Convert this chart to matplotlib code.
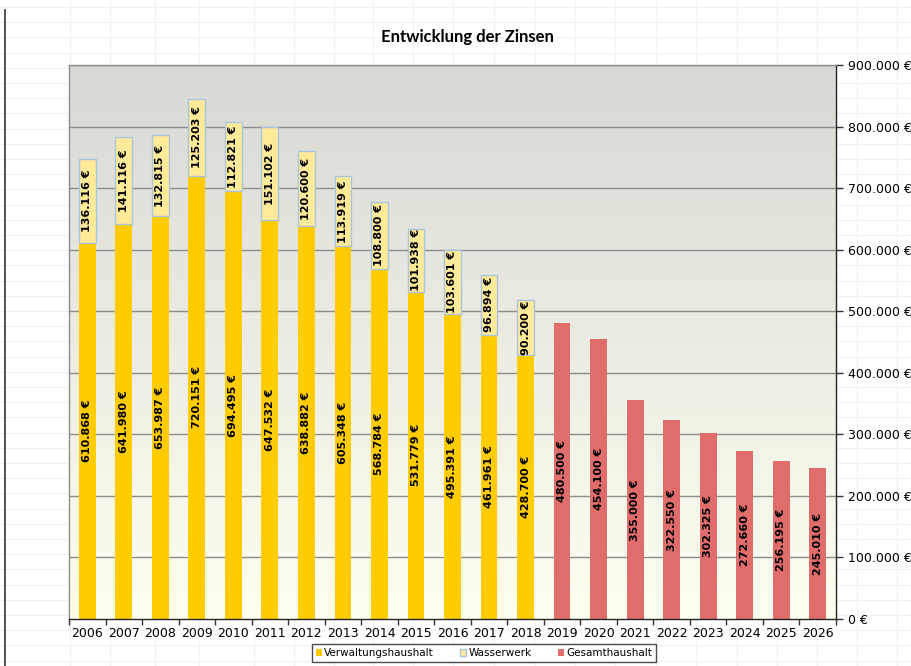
import numpy as np
import matplotlib
matplotlib.use("Agg")
import matplotlib.pyplot as plt
from matplotlib.patches import Patch
from matplotlib.lines import Line2D

years = [str(y) for y in range(2006, 2027)]
verwaltung = [610868, 641980, 653987, 720151, 694495, 647532, 638882, 605348,
              568784, 531779, 495391, 461961, 428700]
wasserwerk = [136116, 141116, 132815, 125203, 112821, 151102, 120600, 113919,
              108800, 101938, 103601, 96894, 90200]
gesamt = [480500, 454100, 355000, 322550, 302325, 272660, 256195, 245010]
yticks = list(range(0, 900001, 100000))

C_VERW = "#ffcc00"
C_WASS = "#ffea9a"
C_WASS_EDGE = "#a9c4de"
C_GES = "#e06c6c"


def eur(v):
    s = f"{v:,}".replace(",", ".")
    return s + " €"


fig = plt.figure(figsize=(9.12, 6.66), dpi=100)
fig.patch.set_facecolor("white")

# spreadsheet background grid
for yy in np.arange(7, 666, 15.2):
    fig.add_artist(Line2D([0, 1], [1 - yy / 666, 1 - yy / 666], color="#f1f1f1", lw=0.8, zorder=0))
for xx in [70, 110, 155, 199, 254, 294, 334, 373, 413, 453, 494, 535, 575, 615, 656, 696, 737, 777, 817, 857, 897]:
    fig.add_artist(Line2D([xx / 912, xx / 912], [0, 1], color="#f1f1f1", lw=0.8, zorder=0))
fig.add_artist(Line2D([5 / 912, 5 / 912], [0, 1 - 10 / 666], color="#333333", lw=1.2, zorder=1))

ax = fig.add_axes([69 / 912, 1 - 619 / 666, (836 - 69) / 912, (619 - 65) / 666])

# gradient background (gray at top, cream at bottom)
grad = np.linspace(0, 1, 256)[:, None]
top = np.array([0.85, 0.85, 0.835])
bot = np.array([1.0, 1.0, 0.94])
img = top[None, None, :] * (1 - grad[:, :, None]) + bot[None, None, :] * grad[:, :, None]
ax.imshow(img, extent=[-0.5, 20.5, 0, 900000], aspect="auto", zorder=0, origin="upper")

ax.set_xlim(-0.5, 20.5)
ax.set_ylim(0, 900000)

for t in yticks[1:]:
    ax.axhline(t, color="#8c8c8c", lw=1.0, zorder=1)

w = 0.46
n1 = len(verwaltung)
x1 = np.arange(n1)
ax.bar(x1, verwaltung, width=w, color=C_VERW, zorder=2)
ax.bar(x1, wasserwerk, width=w, bottom=verwaltung, color=C_WASS,
       edgecolor=C_WASS_EDGE, linewidth=1.0, zorder=2)
x2 = np.arange(n1, n1 + len(gesamt))
ax.bar(x2, gesamt, width=w, color=C_GES, zorder=2)

lab_kw = dict(rotation=90, ha="center", va="center", fontsize=8, fontweight="bold",
              color="black", zorder=3)
for xi, v, ww in zip(x1, verwaltung, wasserwerk):
    ax.text(xi, v / 2, eur(v), **lab_kw)
    ax.text(xi, v + ww / 2, eur(ww), **lab_kw)
for xi, v in zip(x2, gesamt):
    ax.text(xi, v / 2, eur(v), **lab_kw)

# axes styling
ax.yaxis.tick_right()
ax.set_yticks(yticks)
ax.set_yticklabels([eur(t) if t else "0 €" for t in yticks], fontsize=9)
ax.tick_params(axis="y", direction="out", length=5, width=1, color="#333333", pad=4)

ax.set_xticks(range(len(years)))
ax.set_xticklabels(years, fontsize=9)
ax.set_xticks(np.arange(-0.5, 21, 1), minor=True)
ax.tick_params(axis="x", which="major", length=0, pad=6)
ax.tick_params(axis="x", which="minor", direction="out", length=4, width=1, color="#333333")

ax.spines["right"].set_color("#222222")
ax.spines["bottom"].set_color("#222222")
ax.spines["left"].set_color("#8c8c8c")
ax.spines["top"].set_color("#8c8c8c")
for s in ax.spines.values():
    s.set_linewidth(1.0)

fig.text(467 / 912, 1 - 37 / 666, "Entwicklung der Zinsen", ha="center", va="center",
         fontsize=12, fontweight="bold", family="Lato")

handles = [Patch(facecolor=C_VERW, edgecolor="none", label="Verwaltungshaushalt"),
           Patch(facecolor=C_WASS, edgecolor=C_WASS_EDGE, label="Wasserwerk"),
           Patch(facecolor=C_GES, edgecolor="none", label="Gesamthaushalt")]
leg = fig.legend(handles=handles, loc="center", bbox_to_anchor=(484 / 912, 1 - 653 / 666),
                 ncol=3, fontsize=7.5, frameon=True, fancybox=False, edgecolor="#222222",
                 handlelength=0.6, handleheight=0.6, handletextpad=0.2, columnspacing=2.5,
                 borderpad=0.35)
leg.get_frame().set_linewidth(1.0)

fig.savefig("out.png", dpi=100, facecolor="white")
